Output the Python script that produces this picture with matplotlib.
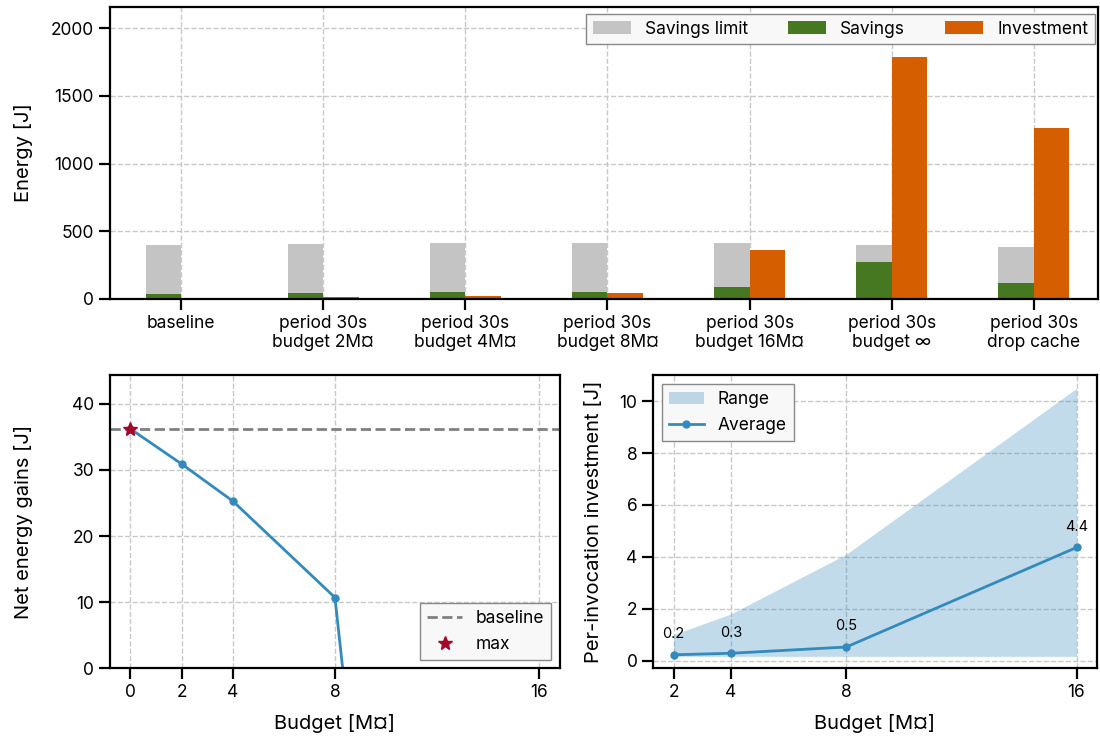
import matplotlib
matplotlib.use('Agg')
from matplotlib import pyplot as plt
from matplotlib.patches import Patch
from matplotlib.lines import Line2D

plt.rcParams['font.family'] = ['Inter', 'DejaVu Sans']
plt.rcParams['font.size'] = 12.5
plt.rcParams['axes.labelsize'] = 14.5

# Energy per configuration
configs = ['baseline',
           'period 30s\nbudget 2M¤', 'period 30s\nbudget 4M¤',
           'period 30s\nbudget 8M¤', 'period 30s\nbudget 16M¤',
           'period 30s\nbudget ∞', 'period 30s\ndrop cache']
savings_limit = [401, 408, 414, 414, 415, 401, 386]
savings = [33, 46, 47, 53, 91, 275, 120]
investment = [0, 17, 24, 46, 364, 1786, 1263]

# Net gains over budget
net_budget = [0, 2, 4, 8, 16]
net_gains = [36.2, 30.9, 25.3, 10.7, -273]
baseline_gain = 36.2

# Per-invocation investment
inv_budget = [2, 4, 8, 16]
inv_avg = [0.22, 0.28, 0.52, 4.36]
inv_min = [0.16, 0.16, 0.16, 0.16]
inv_max = [1.0, 1.8, 4.1, 10.5]

GRAY = '#c4c4c4'
GREEN = '#467821'
ORANGE = '#D55E00'
BLUE = '#348ABD'
RED = '#A60628'


def style(ax):
    ax.grid(True, linestyle='--', color='#c8c8c8', linewidth=1)
    ax.set_axisbelow(True)
    for s in ax.spines.values():
        s.set_linewidth(1.6)
    ax.tick_params(length=8, width=1.6)


fig = plt.figure(figsize=(11, 7.36), dpi=100)
ax1 = fig.add_axes([0.1, 0.594, 0.898, 0.397])
ax2 = fig.add_axes([0.1, 0.092, 0.409, 0.398])
ax3 = fig.add_axes([0.594, 0.092, 0.403, 0.398])

# Top: bar chart
x = list(range(len(configs)))
w = 0.25
ax1.bar([i - w / 2 for i in x], savings_limit, w, color=GRAY, label='Savings limit')
ax1.bar([i - w / 2 for i in x], savings, w, color=GREEN, label='Savings')
ax1.bar([i + w / 2 for i in x], investment, w, color=ORANGE, label='Investment')
ax1.set_xticks(x)
ax1.set_xticklabels(configs)
ax1.set_xlim(-0.5, 6.45)
ax1.set_ylim(0, 2160)
ax1.set_yticks([0, 500, 1000, 1500, 2000])
ax1.set_ylabel('Energy [J]')
ax1.yaxis.set_label_coords(-0.078, 0.5)
style(ax1)
ax1.legend(ncol=3, loc='upper right', fancybox=False, edgecolor='#888888',
           facecolor='#f8f8f8', framealpha=1, borderaxespad=0.15,
           bbox_to_anchor=(1.0, 0.985), columnspacing=2.3, handlelength=2.2)

# Bottom left: net energy gains
ax2.axhline(baseline_gain, color='#808080', linestyle='--', linewidth=2, label='baseline')
ax2.plot(net_budget, net_gains, color=BLUE, linewidth=2, marker='o', markersize=5)
ax2.plot([net_budget[0]], [net_gains[0]], linestyle='none', marker='*',
         color=RED, markersize=10, label='max', zorder=5)
ax2.set_xticks(net_budget)
ax2.set_xlim(-0.8, 16.8)
ax2.set_ylim(0, 44.3)
ax2.set_yticks([0, 10, 20, 30, 40])
ax2.set_xlabel('Budget [M¤]', labelpad=9)
ax2.set_ylabel('Net energy gains [J]')
ax2.yaxis.set_label_coords(-0.171, 0.5)
style(ax2)
ax2.legend(loc='lower right', fancybox=False, edgecolor='#888888',
           facecolor='#f8f8f8', framealpha=1)

# Bottom right: per-invocation investment
ax3.fill_between(inv_budget, inv_min, inv_max, color=BLUE, alpha=0.3, linewidth=0)
ax3.plot(inv_budget, inv_avg, color=BLUE, linewidth=2, marker='o', markersize=5)
for b, v in zip(inv_budget, inv_avg):
    ax3.annotate(f'{v:.1f}', (b, v), textcoords='offset points', xytext=(0, 12),
                 ha='center', fontsize=10.5)
ax3.set_xticks(inv_budget)
ax3.set_xlim(1.3, 16.7)
ax3.set_ylim(-0.3, 11.0)
ax3.set_yticks([0, 2, 4, 6, 8, 10])
ax3.set_xlabel('Budget [M¤]', labelpad=9)
ax3.set_ylabel('Per-invocation investment [J]')
ax3.yaxis.set_label_coords(-0.113, 0.5)
style(ax3)
handles = [Patch(facecolor=BLUE, alpha=0.3, label='Range'),
           Line2D([], [], color=BLUE, linewidth=2, marker='o', markersize=5, label='Average')]
ax3.legend(handles=handles, loc='upper left', fancybox=False, edgecolor='#888888',
           facecolor='#f8f8f8', framealpha=1)

fig.savefig('out.png', dpi=100)
